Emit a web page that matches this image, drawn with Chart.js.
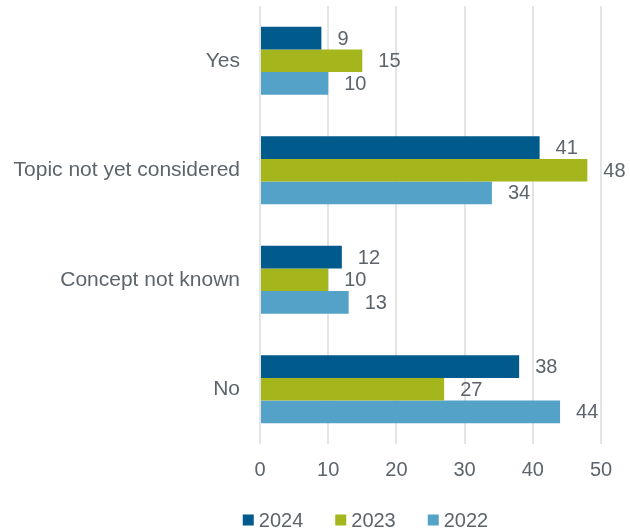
<!DOCTYPE html>
<html>
<head>
<meta charset="utf-8">
<script src="https://cdn.jsdelivr.net/npm/chart.js@4"></script>
<style>
  html, body { margin: 0; padding: 0; background: #ffffff; }
  #wrap { width: 630px; height: 530px; }
</style>
</head>
<body>
<div id="wrap"><canvas id="chart" width="630" height="530"></canvas></div>
<script>
// Survey answers per category, by survey year
const categories = ['Yes', 'Topic not yet considered', 'Concept not known', 'No'];
const years = ['2024', '2023', '2022'];
const values2024 = [9, 41, 12, 38];
const values2023 = [15, 48, 10, 27];
const values2022 = [10, 34, 13, 44];
const xTicks = [0, 10, 20, 30, 40, 50];

const colors = ['#005a8c', '#a5b61c', '#55a2c8'];
const textColor = '#5d646c';
const fontFamily = '"Liberation Sans", Arial, sans-serif';

// Value written just to the right of each bar end
const valueLabels = {
  id: 'valueLabels',
  afterDatasetsDraw(chart) {
    const ctx = chart.ctx;
    ctx.save();
    ctx.font = '20px ' + fontFamily;
    ctx.fillStyle = textColor;
    ctx.textAlign = 'left';
    ctx.textBaseline = 'middle';
    chart.data.datasets.forEach((ds, i) => {
      const meta = chart.getDatasetMeta(i);
      meta.data.forEach((bar, j) => {
        ctx.fillText(String(ds.data[j]), bar.x + 16, bar.y + 1);
      });
    });
    ctx.restore();
  }
};

// Legend row: square swatch, then the year, items spread evenly
const bottomLegend = {
  id: 'bottomLegend',
  afterDraw(chart) {
    const ctx = chart.ctx;
    const box = 11, gapText = 5, gapItem = 32, centreX = 365.5, centreY = 520;
    ctx.save();
    ctx.font = '20px ' + fontFamily;
    ctx.textBaseline = 'middle';
    ctx.textAlign = 'left';
    const items = chart.data.datasets.map(ds => ({
      label: ds.label, color: ds.backgroundColor, w: ctx.measureText(ds.label).width
    }));
    const total = items.reduce((s, it) => s + box + gapText + it.w, 0) + gapItem * (items.length - 1);
    let x = centreX - total / 2;
    items.forEach(it => {
      ctx.fillStyle = it.color;
      ctx.fillRect(x, centreY - box / 2, box, box);
      ctx.fillStyle = textColor;
      ctx.fillText(it.label, x + box + gapText, centreY + 1);
      x += box + gapText + it.w + gapItem;
    });
    ctx.restore();
  }
};

new Chart(document.getElementById('chart'), {
  type: 'bar',
  data: {
    labels: categories,
    datasets: [
      { label: years[0], data: values2024, backgroundColor: colors[0] },
      { label: years[1], data: values2023, backgroundColor: colors[1] },
      { label: years[2], data: values2022, backgroundColor: colors[2] }
    ]
  },
  options: {
    indexAxis: 'y',
    responsive: false,
    animation: false,
    categoryPercentage: 0.62,
    barPercentage: 1.0,
    layout: { padding: { top: 6, right: 29, left: 10, bottom: 48 } },
    scales: {
      x: {
        min: 0,
        max: 50,
        afterBuildTicks(axis) { axis.ticks = xTicks.map(v => ({ value: v })); },
        afterFit(axis) {
          axis.height = 38;
          axis.paddingLeft = 0;
          axis.paddingRight = 0;
        },
        grid: { color: '#e4e4e4', lineWidth: 2, drawTicks: false },
        border: { display: false },
        ticks: {
          color: textColor,
          font: { family: fontFamily, size: 20 },
          padding: 14
        }
      },
      y: {
        afterFit(axis) {
          axis.width = 250;
          axis.paddingTop = 0;
          axis.paddingBottom = 0;
        },
        grid: { display: false, drawTicks: false },
        border: { display: false },
        ticks: {
          color: textColor,
          font: { family: fontFamily, size: 21 },
          padding: 20
        }
      }
    },
    plugins: {
      legend: { display: false },
      tooltip: { enabled: false }
    }
  },
  plugins: [valueLabels, bottomLegend]
});
</script>
</body>
</html>
